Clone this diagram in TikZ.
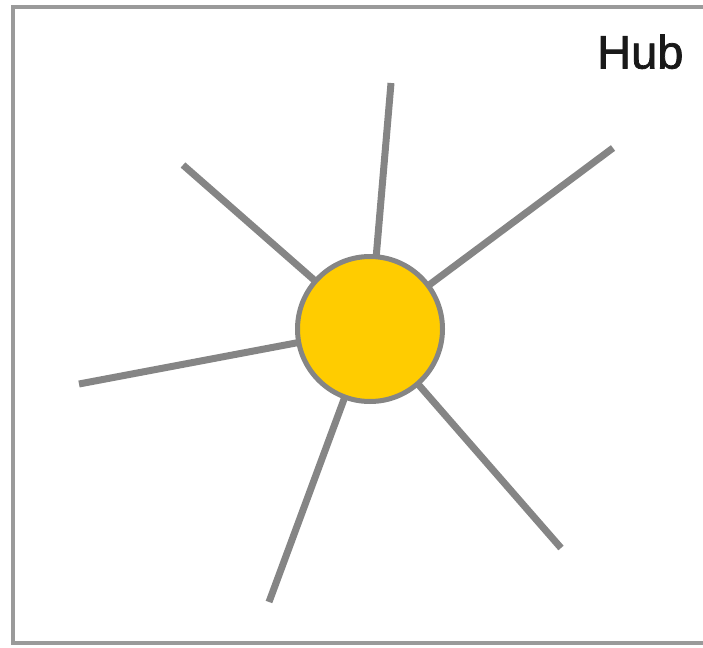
\documentclass[tikz,border=0pt]{standalone}
\usepackage{fontspec}
\setmainfont{Liberation Sans}
\newfontfamily\hubfont[FakeBold=1.6]{Liberation Sans}
\definecolor{spoke}{HTML}{858585}
\definecolor{framec}{HTML}{9A9A9A}
\definecolor{hubfill}{HTML}{FFCC00}
\tikzset{
  spokeline/.style={draw=spoke, line width=7pt},
  hubnode/.style={circle, fill=hubfill, draw=spoke, line width=5pt, minimum size=145pt, inner sep=0pt},
  framebox/.style={draw=framec, line width=4pt},
  labeltext/.style={font=\hubfont\fontsize{47pt}{50pt}\selectfont, text=black!90, inner sep=0pt, anchor=base west}
}
\begin{document}
\begin{tikzpicture}[x=1pt,y=-1pt]
\useasboundingbox (0,0) rectangle (703,647);
\begin{scope}
\clip (0,0) rectangle (703,647);
\draw[framebox] (13,7) rectangle (720,643);
\end{scope}
\coordinate (c) at (370,329);
\coordinate (e1) at (391,83);
\coordinate (e2) at (613,148);
\coordinate (e3) at (561,548);
\coordinate (e4) at (269,602);
\coordinate (e5) at (79,384);
\coordinate (e6) at (183,165);
\foreach \e in {e1,e2,e3,e4,e5,e6} \draw[spokeline] (c) -- (\e);
\node[hubnode] (hub) at (c) {};
\node[labeltext] (lbl) at (597,68.5) {Hub};
\end{tikzpicture}
\end{document}
